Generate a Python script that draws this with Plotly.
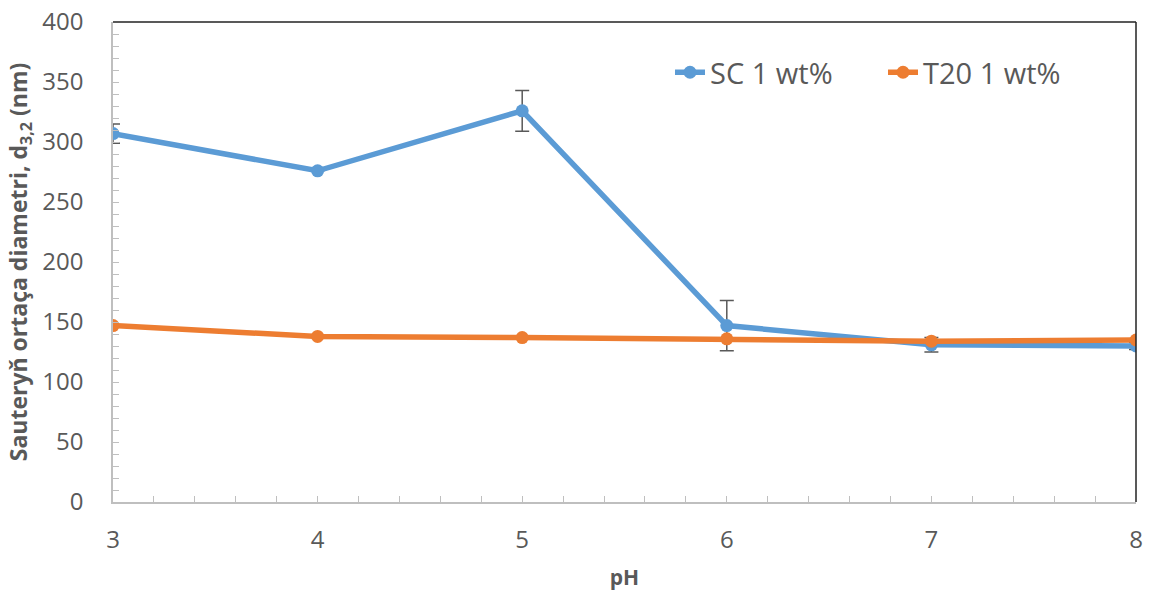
import plotly.graph_objects as go

ph = [3, 4, 5, 6, 7, 8]
sc_values = [307, 276, 326, 147, 131, 130]
sc_errors = [8, 0, 17, 21, 6, 3]
t20_values = [147, 138, 137, 136, 134, 135]

BLUE = "#5B9BD5"
ORANGE = "#ED7D31"
TXT = "#595959"
FONT = "Open Sans"

fig = go.Figure()
fig.add_trace(go.Scatter(
    x=ph, y=sc_values, name="SC 1 wt%", mode="lines+markers",
    line=dict(color=BLUE, width=5.5), marker=dict(size=13, color=BLUE),
    error_y=dict(type="data", array=sc_errors, color="#595959", thickness=1.5, width=7),
))
fig.add_trace(go.Scatter(
    x=ph, y=t20_values, name="T20 1 wt%", mode="lines+markers",
    line=dict(color=ORANGE, width=5.5), marker=dict(size=13, color=ORANGE),
))

fig.update_layout(
    width=1150, height=597,
    margin=dict(l=113, r=14, t=22, b=95, autoexpand=False),
    plot_bgcolor="white", paper_bgcolor="white",
    font=dict(family=FONT, color=TXT, size=24),
    legend=dict(orientation="h", x=0.5445, y=0.895, xanchor="left", yanchor="middle",
                font=dict(size=29, color=TXT), bgcolor="rgba(0,0,0,0)",
                entrywidth=168, entrywidthmode="pixels", tracegroupgap=0),
    xaxis=dict(
        range=[3, 8], tickmode="linear", tick0=3, dtick=1, automargin=False,
        showline=True, linecolor="#BFBFBF", linewidth=1.5, showgrid=False, zeroline=False,
        ticks="inside", ticklen=6, tickcolor="#BFBFBF",
        minor=dict(dtick=0.2, ticks="inside", ticklen=6, tickcolor="#BFBFBF", showgrid=False),
        tickfont=dict(size=24, color=TXT), ticklabelstandoff=15,
        title=dict(text="<b>pH</b>", font=dict(size=21, color=TXT), standoff=17),
    ),
    yaxis=dict(
        range=[0, 400], tickmode="linear", tick0=0, dtick=50, automargin=False,
        showline=True, linecolor="#BFBFBF", linewidth=1.5, showgrid=False, zeroline=False,
        ticks="inside", ticklen=6, tickcolor="#BFBFBF",
        minor=dict(dtick=10, ticks="inside", ticklen=6, tickcolor="#BFBFBF", showgrid=False),
        tickfont=dict(size=24, color=TXT), ticklabelstandoff=23,
        title=dict(text="<b>Sauteryň ortaça diametri, d<sub>3,2</sub> (nm)</b>",
                   font=dict(size=23, color=TXT), standoff=8),
    ),
    shapes=[
        dict(type="line", xref="paper", yref="paper", x0=0, x1=1, y0=1, y1=1,
             line=dict(color="#222222", width=1.5)),
        dict(type="line", xref="paper", yref="paper", x0=1, x1=1, y0=0, y1=1,
             line=dict(color="#222222", width=1.5)),
    ],
)

fig.write_html("out.html")
